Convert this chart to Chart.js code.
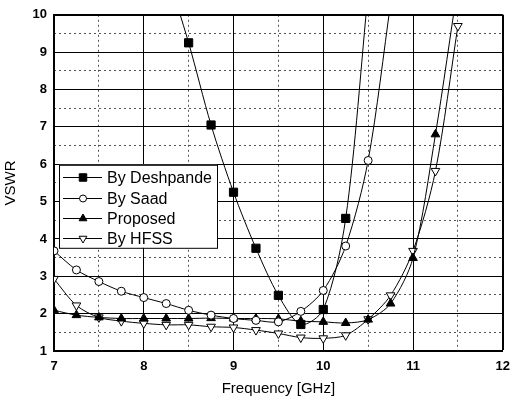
<!DOCTYPE html>
<html>
<head>
<meta charset="utf-8">
<script src="https://cdn.jsdelivr.net/npm/chart.js@4/dist/chart.umd.min.js"></script>
<style>
  html, body { margin: 0; padding: 0; background: #fff; }
  #wrap { width: 518px; height: 403px; }
</style>
</head>
<body>
<div id="wrap"><canvas id="vswr"></canvas></div>
<script>
// frequency points (GHz)
const freqs = [7, 7.25, 7.5, 7.75, 8, 8.25, 8.5, 8.75, 9, 9.25, 9.5, 9.75, 10, 10.25, 10.5, 10.75, 11, 11.25, 11.5];

// VSWR per curve (null = not measured)
const deshpande = [null, null, null, null, null, 11.2, 9.25, 7.05, 5.25, 3.75, 2.49, 1.71, 2.11, 4.55, 10.6, null, null, null, null];
const saad      = [3.68, 3.17, 2.86, 2.6, 2.43, 2.27, 2.09, 1.96, 1.87, 1.82, 1.78, 2.06, 2.62, 3.81, 6.1, 10.3, null, null, null];
const proposed  = [2.09, 1.96, 1.9, 1.87, 1.87, 1.87, 1.87, 1.88, 1.87, 1.87, 1.86, 1.8, 1.78, 1.75, 1.84, 2.27, 3.49, 6.8, 10.8];
const hfss      = [2.93, 2.22, 1.9, 1.8, 1.74, 1.7, 1.7, 1.65, 1.63, 1.56, 1.47, 1.36, 1.34, 1.42, 1.85, 2.49, 3.68, 5.82, 9.7];

const xTicks = [7, 8, 9, 10, 11, 12];
const yTicks = [1, 2, 3, 4, 5, 6, 7, 8, 9, 10];

const FONT = '"Liberation Sans", Arial, sans-serif';

function pts(vals) {
  return freqs.map((f, i) => ({ x: f, y: vals[i] }));
}

function series(label, vals, style, fill, size, rot) {
  return {
    label: label,
    data: pts(vals),
    borderColor: '#000',
    borderWidth: 1,
    backgroundColor: fill,
    pointStyle: style,
    pointRadius: size,
    pointRotation: rot || 0,
    pointBorderColor: '#000',
    pointBackgroundColor: fill,
    pointBorderWidth: 1,
    tension: 0.3,
    spanGaps: false
  };
}

// legend box drawn inside the plot
const boxLegend = {
  id: 'boxLegend',
  afterDraw(chart) {
    const ctx = chart.ctx;
    const a = chart.chartArea;
    const x0 = a.left + 5, y0 = a.top + 150, w = 158, h = 83;
    ctx.save();
    ctx.fillStyle = '#fff';
    ctx.fillRect(x0, y0, w, h);
    ctx.strokeStyle = '#000';
    ctx.lineWidth = 1;
    ctx.strokeRect(x0 + 0.5, y0 + 0.5, w, h);
    ctx.font = '16px ' + FONT;
    ctx.textBaseline = 'middle';
    chart.data.datasets.forEach((ds, i) => {
      const cy = Math.round(y0 + 12.5 + i * 20.3) + 0.5;
      ctx.beginPath();
      ctx.moveTo(x0 + 4, cy);
      ctx.lineTo(x0 + 43, cy);
      ctx.strokeStyle = '#000';
      ctx.lineWidth = 1;
      ctx.stroke();
      ctx.fillStyle = ds.pointBackgroundColor;
      ctx.strokeStyle = '#000';
      Chart.helpers.drawPoint(ctx, {
        pointStyle: ds.pointStyle,
        radius: ds.pointRadius - 0.5,
        rotation: ds.pointRotation,
        borderWidth: 1
      }, x0 + 24, cy);
      ctx.fillStyle = '#000';
      ctx.fillText(ds.label, x0 + 48, cy + 1);
    });
    ctx.restore();
  }
};

const isMajor = v => Math.abs(v - Math.round(v)) < 1e-6;

new Chart(document.getElementById('vswr'), {
  type: 'line',
  data: {
    datasets: [
      series('By Deshpande', deshpande, 'rect', '#000', 5.8),
      series('By Saad', saad, 'circle', '#fff', 4),
      series('Proposed', proposed, 'triangle', '#000', 5),
      series('By HFSS', hfss, 'triangle', '#fff', 5, 180)
    ]
  },
  options: {
    responsive: true,
    maintainAspectRatio: false,
    animation: false,
    layout: { padding: { top: 12, right: 5, left: 0, bottom: 0 } },
    plugins: {
      legend: { display: false },
      tooltip: { enabled: false }
    },
    scales: {
      // dotted half-step grid
      xm: {
        type: 'linear', position: 'bottom', min: 7, max: 12,
        afterFit: s => { s.height = 0; },
        ticks: { display: false, stepSize: 0.5 },
        grid: {
          drawTicks: false,
          color: c => isMajor(c.tick.value) ? 'rgba(0,0,0,0)' : '#555',
          lineWidth: 1
        },
        border: { display: false, dash: [2, 3] }
      },
      ym: {
        type: 'linear', position: 'left', min: 1, max: 10,
        afterFit: s => { s.width = 0; },
        ticks: { display: false, stepSize: 0.5 },
        grid: {
          drawTicks: false,
          color: c => isMajor(c.tick.value) ? 'rgba(0,0,0,0)' : '#555',
          lineWidth: 1
        },
        border: { display: false, dash: [2, 3] }
      },
      x: {
        type: 'linear', position: 'bottom', min: 7, max: 12,
        afterFit: s => { s.height = 52; },
        afterBuildTicks: s => { s.ticks = xTicks.map(v => ({ value: v })); },
        ticks: { color: '#000', padding: 8, font: { family: FONT, size: 13, weight: 'bold' } },
        grid: {
          drawTicks: false,
          color: '#000',
          lineWidth: c => (c.tick.value === 12 ? 2 : 1)
        },
        border: { color: '#000', width: 2 },
        title: {
          display: true, text: 'Frequency [GHz]', color: '#000',
          font: { family: FONT, size: 15 }, padding: { top: 0, bottom: 5 }
        }
      },
      y: {
        type: 'linear', position: 'left', min: 1, max: 10,
        afterFit: s => { s.width = 54; },
        afterBuildTicks: s => { s.ticks = yTicks.map(v => ({ value: v })); },
        ticks: { color: '#000', padding: 7, font: { family: FONT, size: 13, weight: 'bold' } },
        grid: {
          drawTicks: false,
          color: '#000',
          lineWidth: c => (c.tick.value === 10 ? 2 : 1)
        },
        border: { color: '#000', width: 2 },
        title: {
          display: true, text: 'VSWR', color: '#000',
          font: { family: FONT, size: 15 }, padding: { top: 2, bottom: 0 }
        }
      }
    }
  },
  plugins: [boxLegend]
});
</script>
</body>
</html>
